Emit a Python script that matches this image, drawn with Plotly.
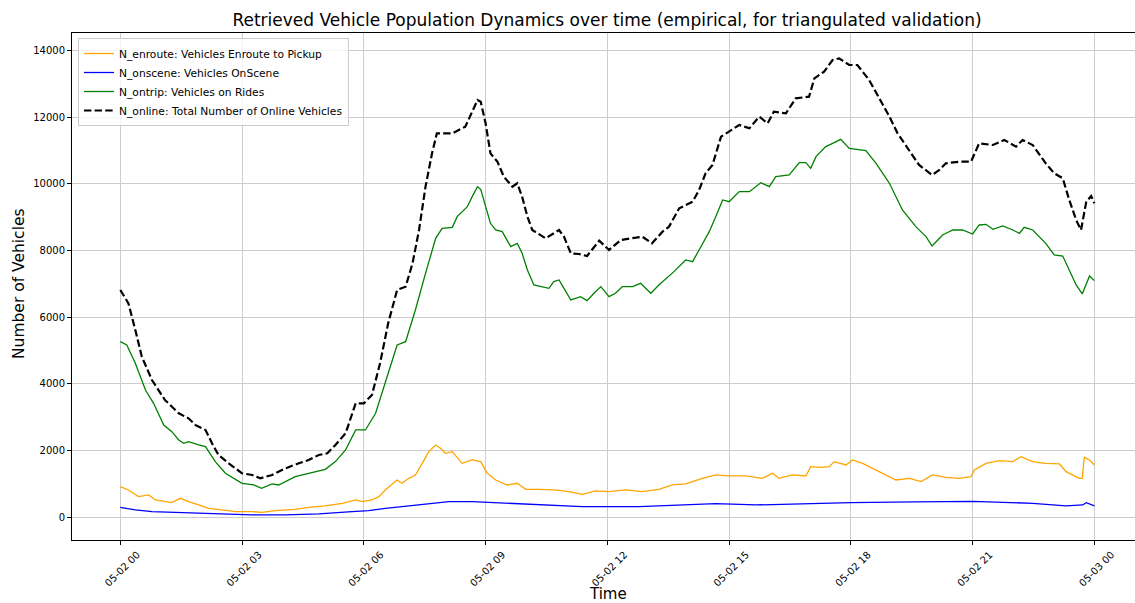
import pandas as pd
import plotly.graph_objects as go

# ---------------- data (hours after 05-02 00:00, vehicle counts) ----------------
base_day = "2024-05-02 00:00"

online_h = [0, 0.2, 0.37, 0.53, 0.78, 1.1, 1.44, 1.68, 1.85, 2.1, 2.26, 2.42, 2.67, 3.0, 3.25, 3.45, 3.74, 4.07, 4.4, 4.64,
            4.89, 5.1, 5.3, 5.55, 5.8, 6.0, 6.2, 6.4, 6.6, 6.82, 7.03, 7.2, 7.36, 7.52, 7.68, 7.8, 8.18, 8.42, 8.5, 8.67,
            8.8, 8.88, 9.0, 9.12, 9.29, 9.45, 9.66, 9.78, 9.9, 10.03, 10.15, 10.48, 10.81, 10.93, 11.1, 11.3, 11.5, 11.8,
            12.04, 12.33, 12.62, 12.86, 13.1, 13.36, 13.52, 13.77, 14.1, 14.26, 14.42, 14.59, 14.8, 15.0, 15.25, 15.5,
            15.74, 15.95, 16.1, 16.4, 16.64, 16.97, 17.1, 17.34, 17.55, 17.71, 17.96, 18.16, 18.45, 18.7, 18.95, 19.15,
            19.44, 19.68, 20.0, 20.18, 20.34, 20.67, 20.96, 21.16, 21.5, 21.78, 22.07, 22.23, 22.48, 22.8, 23.01, 23.22,
            23.38, 23.55, 23.67, 23.8, 23.92, 24.0]
online_v = [6820, 6420, 5620, 4820, 4120, 3520, 3120, 2970, 2770, 2620, 2220, 1870, 1620, 1320, 1270, 1170, 1270, 1470, 1620,
            1720, 1870, 1920, 2170, 2520, 3420, 3420, 3670, 4620, 5820, 6820, 6920, 7620, 8620, 9920, 10920, 11520, 11520,
            11670, 11720, 12170, 12520, 12470, 11820, 10920, 10670, 10220, 9920, 10020, 9620, 9020, 8620, 8370, 8620, 8420,
            7920, 7900, 7840, 8300, 8020, 8320, 8370, 8420, 8220, 8570, 8720, 9270, 9470, 9820, 10320, 10570, 11420, 11570,
            11770, 11670, 12020, 11820, 12170, 12120, 12570, 12620, 13170, 13370, 13720, 13770, 13570, 13570, 13120, 12570,
            12020, 11520, 11020, 10570, 10270, 10420, 10620, 10670, 10670, 11220, 11170, 11320, 11120, 11320, 11170, 10620,
            10320, 10170, 9520, 8920, 8620, 9470, 9640, 9420]

ontrip_h = [0, 0.16, 0.37, 0.62, 0.82, 1.07, 1.27, 1.44, 1.56, 1.68, 1.93, 2.1, 2.34, 2.59, 3.0, 3.29, 3.48, 3.74, 3.9, 4.31,
            4.64, 5.05, 5.3, 5.55, 5.8, 6.04, 6.29, 6.53, 6.82, 7.03, 7.27, 7.52, 7.77, 7.93, 8.18, 8.3, 8.42, 8.55, 8.67,
            8.8, 8.88, 9.0, 9.12, 9.25, 9.41, 9.62, 9.78, 9.9, 10.03, 10.19, 10.4, 10.56, 10.68, 10.81, 10.93, 11.1, 11.34,
            11.5, 11.67, 11.84, 12.04, 12.2, 12.37, 12.62, 12.82, 13.07, 13.27, 13.48, 13.64, 13.93, 14.1, 14.26, 14.51,
            14.67, 14.84, 15.0, 15.25, 15.5, 15.78, 15.99, 16.15, 16.48, 16.73, 16.89, 17.01, 17.14, 17.38, 17.55, 17.75,
            17.96, 18.37, 18.62, 18.95, 19.27, 19.6, 19.85, 20.0, 20.26, 20.51, 20.75, 21.0, 21.16, 21.33, 21.5, 21.74,
            21.99, 22.15, 22.27, 22.48, 22.8, 23.01, 23.22, 23.38, 23.55, 23.7, 23.8, 23.88, 24.0]
ontrip_v = [5270, 5170, 4620, 3820, 3420, 2770, 2570, 2320, 2220, 2270, 2170, 2120, 1670, 1320, 1020, 970, 870, 1000, 970,
            1220, 1320, 1440, 1670, 2020, 2620, 2620, 3120, 4020, 5170, 5270, 6220, 7320, 8370, 8670, 8700, 9020, 9170,
            9320, 9620, 9920, 9840, 9320, 8820, 8620, 8570, 8120, 8220, 7920, 7420, 6970, 6920, 6870, 7070, 7120, 6870,
            6520, 6620, 6500, 6720, 6920, 6620, 6720, 6920, 6920, 7020, 6720, 6970, 7200, 7370, 7720, 7670, 8020, 8570,
            9020, 9520, 9470, 9770, 9770, 10040, 9920, 10220, 10270, 10640, 10640, 10470, 10820, 11120, 11220, 11340,
            11070, 11000, 10620, 10020, 9220, 8720, 8420, 8140, 8470, 8620, 8620, 8500, 8770, 8790, 8640, 8740, 8620,
            8520, 8700, 8620, 8220, 7870, 7840, 7420, 6970, 6700, 7020, 7240, 7100]

enroute_h = [0, 0.2, 0.45, 0.7, 0.86, 1.1, 1.27, 1.48, 1.68, 1.93, 2.18, 2.5, 2.84, 3.25, 3.49, 3.82, 4.31, 4.64, 5.05,
             5.47, 5.8, 5.96, 6.2, 6.37, 6.53, 6.82, 6.94, 7.11, 7.27, 7.44, 7.6, 7.77, 7.89, 8.01, 8.18, 8.42, 8.67,
             8.88, 9.04, 9.25, 9.53, 9.78, 9.99, 10.32, 10.68, 11.05, 11.38, 11.71, 12.04, 12.45, 12.86, 13.27, 13.6,
             13.93, 14.34, 14.67, 15.0, 15.41, 15.82, 16.07, 16.23, 16.56, 16.89, 17.01, 17.22, 17.47, 17.59, 17.88,
             18.04, 18.29, 18.45, 18.7, 18.95, 19.11, 19.44, 19.73, 20.01, 20.34, 20.67, 20.96, 21.04, 21.33, 21.66,
             21.99, 22.19, 22.48, 22.8, 23.14, 23.3, 23.63, 23.7, 23.75, 23.88, 24.0]
enroute_v = [920, 820, 620, 670, 520, 470, 440, 570, 470, 370, 270, 220, 170, 170, 150, 200, 240, 300, 340, 420, 520, 470,
             520, 620, 820, 1120, 1020, 1170, 1270, 1620, 1970, 2170, 2070, 1920, 1970, 1620, 1720, 1670, 1320, 1120, 970,
             1020, 840, 840, 820, 770, 690, 790, 770, 820, 770, 840, 970, 1000, 1170, 1270, 1240, 1240, 1170, 1320, 1170,
             1270, 1240, 1520, 1500, 1520, 1670, 1570, 1720, 1620, 1520, 1370, 1220, 1120, 1170, 1070, 1270, 1200, 1170,
             1220, 1420, 1620, 1700, 1670, 1820, 1670, 1620, 1600, 1370, 1170, 1170, 1800, 1720, 1570]

onscene_h = [0, 0.37, 0.78, 1.6, 2.42, 3.25, 4.07, 4.89, 5.71, 6.12, 6.53, 6.94, 7.36, 7.77, 8.1, 8.67, 9.49, 10.32,
             11.38, 12.78, 13.6, 14.67, 15.66, 16.73, 18.0, 19.6, 21.0, 22.48, 23.3, 23.71, 23.8, 24.0]
onscene_v = [300, 220, 170, 140, 100, 70, 70, 100, 170, 200, 270, 320, 370, 440, 470, 470, 420, 370, 320, 320, 350, 410,
             370, 400, 440, 460, 480, 420, 340, 370, 440, 340]

tick_hours = [0, 3, 6, 9, 12, 15, 18, 21, 24]
y_ticks = [0, 2000, 4000, 6000, 8000, 10000, 12000, 14000]

# ---------------- build figure ----------------
t0 = pd.Timestamp(base_day)


def to_time(hours):
    return [t0 + pd.Timedelta(hours=h) for h in hours]


FONT = "DejaVu Sans"
W, H = 1135, 603
ML, MR, MT, MB = 72, 0, 33, 63
PW, PH = W - ML - MR, H - MT - MB

fig = go.Figure()
series = [
    (enroute_h, enroute_v, "N_enroute: Vehicles Enroute to Pickup", "#FFA500", 1.3, "solid"),
    (onscene_h, onscene_v, "N_onscene: Vehicles OnScene", "#0000FF", 1.3, "solid"),
    (ontrip_h, ontrip_v, "N_ontrip: Vehicles on Rides", "#008000", 1.3, "solid"),
    (online_h, online_v, "N_online: Total Number of Online Vehicles", "#000000", 2.2, "7.4px,3.2px"),
]
for hh, vv, name, col, w, dash in series:
    fig.add_trace(go.Scatter(x=to_time(hh), y=vv, mode="lines", name=name,
                             line=dict(color=col, width=w, dash=dash)))

tickvals = to_time(tick_hours)
fig.update_layout(
    width=W, height=H,
    margin=dict(l=ML, r=MR, t=MT, b=MB),
    paper_bgcolor="white", plot_bgcolor="white",
    font=dict(family=FONT, size=10, color="black"),
    title=dict(text="Retrieved Vehicle Population Dynamics over time (empirical, for triangulated validation)",
               x=607 / W, xref="container", xanchor="center",
               y=1 - 20 / H, yref="container", yanchor="middle",
               font=dict(family=FONT, size=17, color="black")),
    showlegend=True,
    legend=dict(x=6 / PW, y=1 - 5 / PH, xanchor="left", yanchor="top",
                bgcolor="rgba(255,255,255,0.8)", bordercolor="#cccccc", borderwidth=1,
                font=dict(family=FONT, size=10.7, color="black"), itemwidth=30),
    annotations=[
        dict(text="Time", xref="paper", yref="paper", x=(608 - ML) / PW, y=-(594 - (H - MB)) / PH,
             xanchor="center", yanchor="middle", showarrow=False,
             font=dict(family=FONT, size=15, color="black")),
        dict(text="Number of Vehicles", xref="paper", yref="paper", x=-(ML - 19) / PW, y=((H - MB) - 284) / PH,
             xanchor="center", yanchor="middle", showarrow=False, textangle=-90,
             font=dict(family=FONT, size=15.5, color="black")),
    ],
)
fig.update_xaxes(
    type="date", automargin=False,
    range=[t0 + pd.Timedelta(hours=-1.19), t0 + pd.Timedelta(hours=25.0)],
    tickvals=tickvals, ticktext=[t.strftime("%m-%d %H") for t in tickvals],
    tickangle=-45, ticks="outside", ticklen=4, tickwidth=1, tickcolor="black",
    ticklabelshift=17, ticklabelstandoff=0,
    showgrid=True, gridcolor="#cccccc", gridwidth=1,
    showline=True, linecolor="black", linewidth=1, mirror=True,
    zeroline=False,
    tickfont=dict(family=FONT, size=10, color="black"),
)
fig.update_yaxes(
    automargin=False,
    range=[-681, 14530],
    tickvals=y_ticks, ticktext=[str(v) for v in y_ticks],
    ticks="outside", ticklen=4, tickwidth=1, tickcolor="black",
    showgrid=True, gridcolor="#cccccc", gridwidth=1,
    showline=True, linecolor="black", linewidth=1, mirror=False,
    zeroline=False,
    tickfont=dict(family=FONT, size=10, color="black"),
)

fig.write_html("out.html", config={"displayModeBar": False},
               post_script="document.body.style.margin='0';document.body.style.overflow='hidden';")
